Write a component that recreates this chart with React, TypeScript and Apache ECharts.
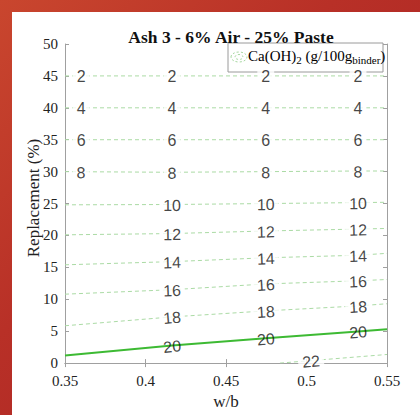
import React, { useEffect, useRef } from "react";
import * as echarts from "echarts";

// Contour levels of Ca(OH)2 (g/100g binder)
const levels = [2, 4, 6, 8, 10, 12, 14, 16, 18, 20];
// w/b positions where each contour was read
const lineX = [0.35, 0.4165, 0.4747, 0.532, 0.55];
// Replacement (%) of each contour at those positions
const lineY: number[][] = [
  [45, 45, 45, 45, 45],
  [40, 40, 40, 40, 40],
  [35, 35, 35, 35, 35],
  [30, 29.9, 30, 30.1, 30.1],
  [24.8, 24.85, 25.0, 25.15, 25.2],
  [20.1, 20.3, 20.7, 21.0, 21.1],
  [15.4, 15.9, 16.5, 16.9, 17.2],
  [10.8, 11.5, 12.4, 12.9, 13.1],
  [5.85, 7.24, 8.18, 8.96, 9.3],
  [1.2, 2.74, 3.88, 4.97, 5.3],
];
const level22 = 22;
const level22X = [0.4835, 0.5028, 0.55];
const level22Y = [0, 0.39, 1.35];
const highlightLevel = 20;

// label columns (w/b)
const labelColsAll = [0.36, 0.4165, 0.4747, 0.532];
const labelColsLow = [0.4165, 0.4747, 0.532];
const label22X = [0.5028];

const xTicks = ["0.35", "0.4", "0.45", "0.5", "0.55"];

const GRID = { left: 65, right: 33, top: 44, bottom: 49 };
const PW = 420 - GRID.left - GRID.right;
const PH = 415 - GRID.top - GRID.bottom;

function interp(xs: number[], ys: number[], x: number) {
  for (let i = 0; i < xs.length - 1; i++) {
    if (x >= xs[i] && x <= xs[i + 1]) {
      const t = (x - xs[i]) / (xs[i + 1] - xs[i]);
      const slope = (ys[i + 1] - ys[i]) / (xs[i + 1] - xs[i]);
      return { y: ys[i] + t * (ys[i + 1] - ys[i]), slope };
    }
  }
  return { y: ys[ys.length - 1], slope: 0 };
}

function angleOf(slope: number) {
  const px = (slope * (PH / 50)) / (PW / 0.2);
  return (Math.atan(px) * 180) / Math.PI;
}

const labelFont = {
  fontFamily: "Liberation Sans",
  fontSize: 16,
  color: "#141414",
};

export default function App() {
  const ref = useRef<HTMLDivElement>(null);
  useEffect(() => {
    if (!ref.current) return;
    const chart = echarts.init(ref.current, undefined, { renderer: "svg" });
    const series: any[] = [];
    const makeLabels = (xs: number[], ys: number[], cols: number[], lvl: number) => {
      const hl = lvl === highlightLevel;
      return {
        type: "scatter",
        silent: true,
        symbolSize: 1,
        itemStyle: { color: "rgba(0,0,0,0)" },
        z: 5,
        data: cols.map((c) => {
          const r = interp(xs, ys, c);
          return {
            value: [c, r.y],
            label: { rotate: angleOf(r.slope) },
          };
        }),
        label: {
          show: true,
          position: "inside",
          formatter: String(lvl),
          offset: [0, 1],
          ...labelFont,
          backgroundColor: hl ? "transparent" : "#ffffff",
          padding: [0, 4, 0, 4],
        },
      };
    };
    levels.forEach((lvl, i) => {
      const hl = lvl === highlightLevel;
      series.push({
        type: "line",
        silent: true,
        symbol: "none",
        z: 2,
        data: lineX.map((x, j) => [x, lineY[i][j]]),
        lineStyle: hl
          ? { color: "#3dba33", width: 2, type: "solid" }
          : { color: "#abdba5", width: 1, type: [4, 3] },
      });
      series.push(makeLabels(lineX, lineY[i], i < 4 ? labelColsAll : labelColsLow, lvl));
    });
    series.push({
      type: "line",
      silent: true,
      symbol: "none",
      z: 2,
      data: level22X.map((x, j) => [x, level22Y[j]]),
      lineStyle: { color: "#abdba5", width: 1, type: [4, 3] },
    });
    series.push(makeLabels(level22X, level22Y, label22X, level22));

    const axisCommon = {
      axisLine: { show: true, lineStyle: { color: "#a0a0a0", width: 1 } },
      axisTick: { show: true, inside: true, length: 4, lineStyle: { color: "#a0a0a0" } },
      splitLine: { show: false },
    };

    chart.setOption({
      animation: false,
      backgroundColor: "transparent",
      title: {
        text: "Ash 3 - 6% Air - 25% Paste",
        left: 226,
        top: 23,
        textAlign: "center",
        textStyle: {
          fontFamily: "Liberation Serif",
          fontWeight: "bold",
          fontSize: 17.5,
          color: "#111",
        },
      },
      grid: GRID,
      xAxis: [
        {
          type: "value",
          min: 0.35,
          max: 0.55,
          interval: 0.05,
          name: "w/b",
          nameLocation: "middle",
          nameGap: 27,
          nameTextStyle: { fontFamily: "Liberation Serif", fontSize: 17, color: "#222" },
          axisLabel: {
            margin: 10,
            fontFamily: "Liberation Serif",
            fontSize: 15,
            color: "#222",
            formatter: (v: number) => xTicks[Math.round((v - 0.35) / 0.05)] ?? "",
          },
          ...axisCommon,
        },
        {
          type: "value",
          position: "top",
          min: 0.35,
          max: 0.55,
          interval: 0.05,
          axisLabel: { show: false },
          ...axisCommon,
        },
      ],
      yAxis: [
        {
          type: "value",
          min: 0,
          max: 50,
          interval: 5,
          axisLabel: { margin: 7, fontFamily: "Liberation Serif", fontSize: 15, color: "#222" },
          ...axisCommon,
        },
        {
          type: "value",
          position: "right",
          min: 0,
          max: 50,
          interval: 5,
          axisLabel: { show: false },
          ...axisCommon,
        },
      ],
      series,
      graphic: [
        {
          type: "text",
          x: 33,
          y: 198,
          rotation: Math.PI / 2,
          style: {
            text: "Replacement (%)",
            align: "center",
            verticalAlign: "middle",
            fontFamily: "Liberation Serif",
            fontSize: 17,
            fill: "#222",
          },
        },
        {
          type: "group",
          z: 100,
          children: [
            {
              type: "rect",
              shape: { x: 228, y: 43, width: 155, height: 29 },
              style: { fill: "#ffffff", stroke: "#9a9a9a", lineWidth: 1 },
            },
            {
              type: "ellipse",
              shape: { cx: 239, cy: 57, rx: 8, ry: 5 },
              style: { fill: "none", stroke: "#a8d9a2", lineWidth: 1, lineDash: [2, 2] },
            },
            {
              type: "ellipse",
              shape: { cx: 239, cy: 57, rx: 4, ry: 2.5 },
              style: { fill: "none", stroke: "#a8d9a2", lineWidth: 1, lineDash: [2, 2] },
            },
            {
              type: "text",
              x: 248,
              y: 56,
              style: {
                text: "{a|Ca(OH)}{s|2}{a| (g/100g}{s|binder}{a|)}",
                verticalAlign: "middle",
                rich: {
                  a: { fontFamily: "Liberation Serif", fontSize: 15, color: "#111" },
                  s: {
                    fontFamily: "Liberation Serif",
                    fontSize: 11,
                    color: "#111",
                    padding: [8, 0, 0, 0],
                  },
                },
              },
            },
          ],
        },
      ],
    });
    return () => chart.dispose();
  }, []);

  return (
    <div
      style={{
        position: "absolute",
        left: 0,
        top: 0,
        width: 420,
        height: 415,
        background: "linear-gradient(135deg, #c9462e 0%, #b83027 40%, #a52022 100%)",
        overflow: "hidden",
      }}
    >
      <div
        style={{
          position: "absolute",
          left: 12,
          top: 12,
          right: 0,
          bottom: 0,
          background: "#ffffff",
        }}
      />
      <div ref={ref} style={{ position: "absolute", left: 0, top: 0, width: 420, height: 415 }} />
    </div>
  );
}
